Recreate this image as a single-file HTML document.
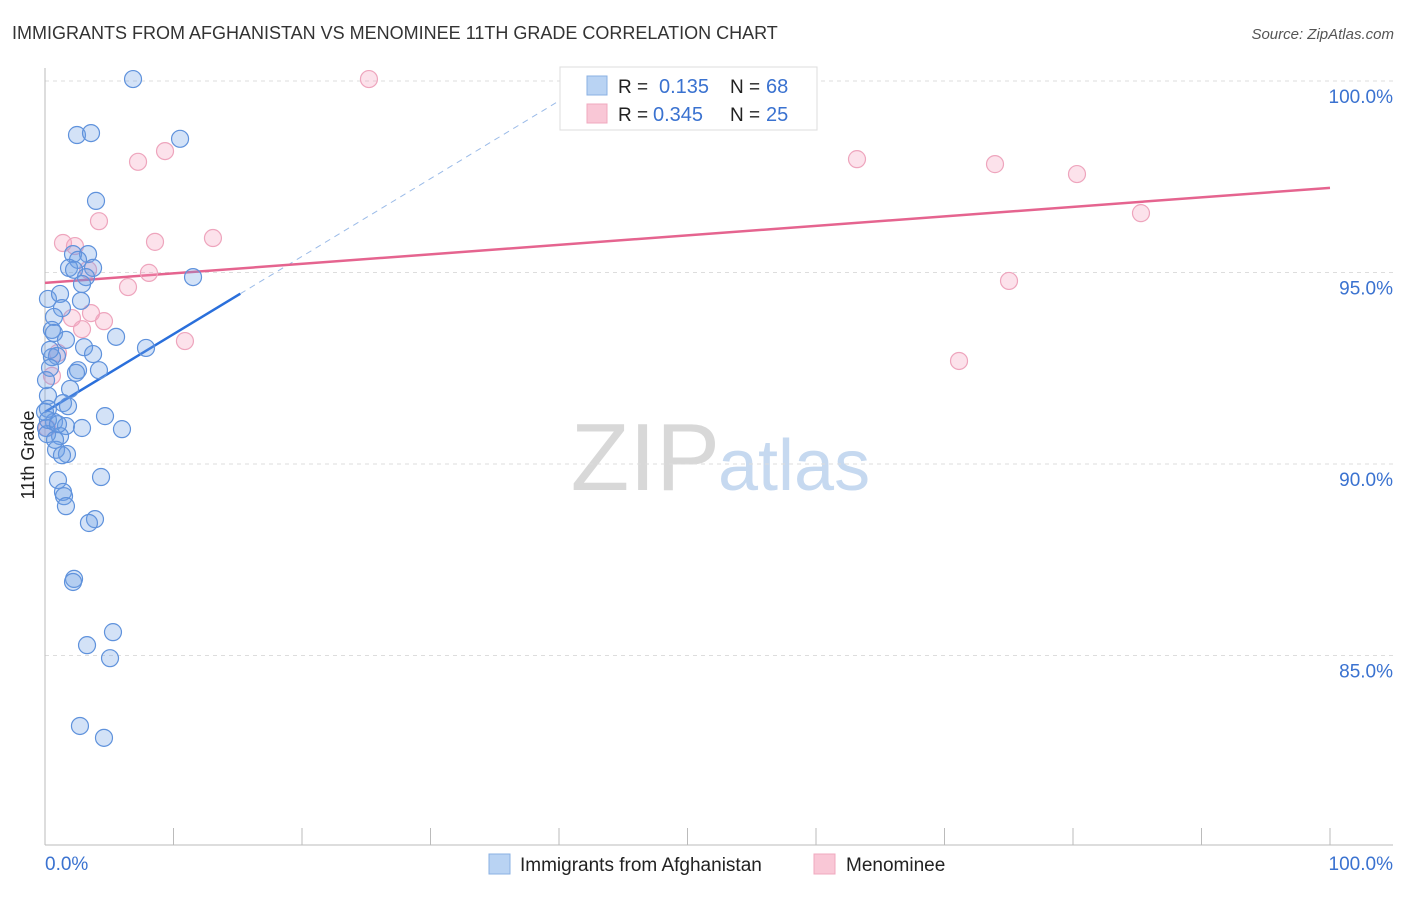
<!DOCTYPE html>
<html><head><meta charset="utf-8">
<style>
body{margin:0;background:#fff;font-family:"Liberation Sans",sans-serif;}
svg text{font-family:"Liberation Sans",sans-serif;}
</style></head>
<body>
<svg id="chart" width="1406" height="892" xmlns="http://www.w3.org/2000/svg">
<text x="12" y="39" font-size="18" fill="#333">IMMIGRANTS FROM AFGHANISTAN VS MENOMINEE 11TH GRADE CORRELATION CHART</text>
<text x="1394" y="39" font-size="15" fill="#555" font-style="italic" text-anchor="end">Source: ZipAtlas.com</text>
<text x="720" y="490" font-size="96" fill="#d8d8d8" text-anchor="end" font-family="Liberation Serif">ZIP</text>
<text x="718" y="490" font-size="72" fill="#c6d9f0">atlas</text>
<g id="grid"></g>
<g id="axes"></g>
<g id="lines"></g>
<g id="points"></g>
<text transform="translate(34,455) rotate(-90)" font-size="18" fill="#222" text-anchor="middle">11th Grade</text>
<g>
<rect x="560" y="67" width="257" height="63" fill="#fff" stroke="#ddd"/>
<rect x="587" y="76" width="20" height="19" fill="#b9d3f3" stroke="#8ab0e3"/>
<rect x="587" y="104" width="20" height="19" fill="#f9c7d6" stroke="#f0a8bf"/>
<text x="618" y="93" font-size="19" fill="#222">R = </text><text x="659" y="93" font-size="20" fill="#3a72d0">0.135</text>
<text x="730" y="93" font-size="19" fill="#222">N = </text><text x="766" y="93" font-size="20" fill="#3a72d0">68</text>
<text x="618" y="121" font-size="19" fill="#222">R = </text><text x="653" y="121" font-size="20" fill="#3a72d0">0.345</text>
<text x="730" y="121" font-size="19" fill="#222">N = </text><text x="766" y="121" font-size="20" fill="#3a72d0">25</text>
</g>
<g>
<rect x="489" y="854" width="21" height="20" fill="#b9d3f3" stroke="#8ab0e3"/>
<text x="520" y="871" font-size="19" fill="#222">Immigrants from Afghanistan</text>
<rect x="814" y="854" width="21" height="20" fill="#f9c7d6" stroke="#f0a8bf"/>
<text x="846" y="871" font-size="19" fill="#222">Menominee</text>
</g>
</svg>
<script>
const blueX=[6.85,2.49,3.58,10.51,3.97,3.35,2.18,2.57,1.87,3.74,2.26,3.19,2.88,11.52,0.23,1.17,2.80,1.32,0.70,0.54,0.70,1.63,5.53,3.04,7.86,0.93,0.54,3.74,2.57,2.41,4.20,0.39,1.95,0.23,1.40,1.79,0.23,4.67,5.99,0.70,1.63,2.88,0.08,1.17,0.86,1.71,1.01,4.36,1.40,1.48,1.63,3.89,3.42,2.26,2.18,5.29,3.27,5.06,2.72,4.59,0.16,0.39,0,0.78,1.32,0.08,0.23,1.01];
const blueY=[100.05,98.59,98.64,98.49,96.87,95.48,95.48,95.33,95.12,95.12,95.07,94.88,94.70,94.88,94.31,94.44,94.26,94.07,93.84,93.50,93.42,93.24,93.32,93.05,93.03,92.82,92.79,92.87,92.45,92.38,92.45,92.51,91.96,91.78,91.59,91.51,91.44,91.25,90.91,91.10,90.99,90.94,90.94,90.73,90.37,90.26,89.58,89.66,89.27,89.16,88.90,88.56,88.46,87.00,86.92,85.61,85.27,84.93,83.16,82.85,90.78,92.98,91.36,90.63,90.23,92.19,91.15,91.04];
const pinkX=[25.21,9.34,7.24,63.19,73.93,80.31,85.29,4.20,13.07,8.56,1.40,2.33,8.09,3.35,6.46,75.02,3.58,2.10,4.59,2.88,10.89,71.13,1.01,0.54,0.16];
const pinkY=[100.05,98.17,97.89,97.96,97.83,97.57,96.55,96.34,95.90,95.80,95.77,95.69,94.99,95.07,94.62,94.78,93.94,93.81,93.73,93.52,93.21,92.69,92.90,92.30,90.94];
const blueTrend=[91.36,0.203];
const pinkTrend=[94.73,0.0248];
const yTicks=[100,95,90,85];
const yTickLabels=["100.0%","95.0%","90.0%","85.0%"];
const xTickVals=[0,10,20,30,40,50,60,70,80,90,100];

const NS="http://www.w3.org/2000/svg";
const X0=45,X1=1330,YT=81,PX=38.3;
function sx(v){return X0+(X1-X0)*v/100;}
function sy(v){return YT+(100-v)*PX;}
function mk(tag,attrs,parent){const e=document.createElementNS(NS,tag);for(const k in attrs)e.setAttribute(k,attrs[k]);document.getElementById(parent).appendChild(e);return e;}

yTicks.forEach((t,i)=>{
 const g=mk('line',{x1:X0,x2:1393,y1:sy(t),y2:sy(t),stroke:'#ddd','stroke-dasharray':'4,4'},'grid');
 
 
 const l=mk('text',{x:1393,y:sy(t)+22,'font-size':19,fill:'#3a72d0','text-anchor':'end'},'axes');
 l.textContent=yTickLabels[i];
 
 
});
const ax=mk('line',{x1:X0,x2:X0,y1:68,y2:845,stroke:'#bbb'},'axes');


const bx=mk('line',{x1:X0,x2:1393,y1:845,y2:845,stroke:'#bbb'},'axes');


xTickVals.forEach(v=>{
 const t=mk('line',{x1:sx(v),x2:sx(v),y1:828,y2:845,stroke:'#bbb'},'axes');
 
 
});
const xl0=mk('text',{x:45,y:870,'font-size':19,fill:'#3a72d0'},'axes');xl0.textContent='0.0%';


const xl1=mk('text',{x:1393,y:870,'font-size':19,fill:'#3a72d0','text-anchor':'end'},'axes');xl1.textContent='100.0%';



function drawPts(xs,ys,fill,stroke,name){
 xs.forEach((x,i)=>{
  const c=mk('circle',{cx:sx(x),cy:sy(ys[i]),r:8.5,fill:fill,stroke:stroke,'stroke-width':1.2},'points');
  
  
 });
}
drawPts(pinkX,pinkY,'rgba(244,160,188,0.3)','#eea5bd','menominee-point');
drawPts(blueX,blueY,'rgba(110,160,230,0.3)','#5f92dc','afghanistan-point');

const bEnd=15.2, bDash=(100-blueTrend[0])/blueTrend[1];
const bl=mk('line',{x1:sx(0),y1:sy(blueTrend[0]),x2:sx(bEnd),y2:sy(blueTrend[0]+blueTrend[1]*bEnd),stroke:'#2a6fdb','stroke-width':2.5},'lines');


const bd=mk('line',{x1:sx(bEnd),y1:sy(blueTrend[0]+blueTrend[1]*bEnd),x2:sx(bDash),y2:sy(100),stroke:'#9bbbe8','stroke-width':1,'stroke-dasharray':'6,5'},'lines');


const pl=mk('line',{x1:sx(0),y1:sy(pinkTrend[0]),x2:sx(100),y2:sy(pinkTrend[0]+pinkTrend[1]*100),stroke:'#e5648f','stroke-width':2.5},'lines');


</script>
</body></html>
